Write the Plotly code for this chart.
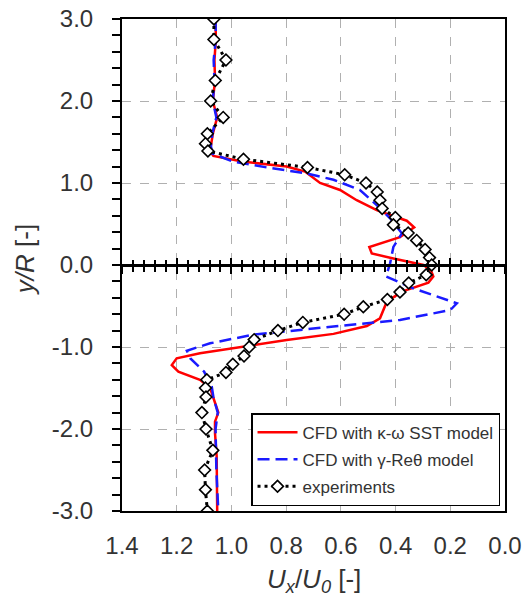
import plotly.graph_objects as go

# ---------------- data ----------------
exp_y = [3.0, 2.75, 2.5, 2.25, 2.0, 1.8, 1.6, 1.48, 1.39, 1.29, 1.19, 1.10, 1.0, 0.89, 0.79, 0.69,
         0.58, 0.49, 0.39, 0.30, 0.19, 0.09, 0.0, -0.12, -0.22, -0.33, -0.42, -0.51, -0.60, -0.70,
         -0.80, -0.91, -1.0, -1.11, -1.21, -1.31, -1.40, -1.50, -1.61, -1.80, -2.0, -2.26, -2.50,
         -2.74, -3.0]
exp_x = [1.064, 1.064, 1.020, 1.059, 1.076, 1.030, 1.088, 1.095, 1.086, 0.956, 0.722, 0.586, 0.508,
         0.467, 0.457, 0.449, 0.401, 0.408, 0.354, 0.323, 0.292, 0.276, 0.268, 0.288, 0.352, 0.384,
         0.430, 0.518, 0.588, 0.739, 0.830, 0.917, 0.935, 0.954, 0.995, 1.020, 1.090, 1.095, 1.093,
         1.108, 1.093, 1.068, 1.098, 1.095, 1.088]

sst_y = [3.0, 2.75, 2.5, 2.25, 2.0, 1.8, 1.6, 1.45, 1.39, 1.33, 1.26, 1.20, 1.14, 1.0, 0.915, 0.79,
         0.67, 0.61, 0.54, 0.46, 0.34, 0.22, 0.14, 0.08, 0.0, -0.07, -0.14, -0.215, -0.325, -0.447,
         -0.65, -0.744, -0.84, -0.915, -1.0, -1.077, -1.138, -1.22, -1.30, -1.40, -1.50, -1.61,
         -1.8, -1.91, -2.05, -2.33, -3.0]
sst_x = [1.058, 1.057, 1.062, 1.060, 1.068, 1.052, 1.068, 1.075, 1.078, 1.066, 0.956, 0.798, 0.731,
         0.676, 0.603, 0.542, 0.469, 0.420, 0.359, 0.332, 0.384, 0.496, 0.487, 0.408, 0.298, 0.270,
         0.262, 0.280, 0.377, 0.432, 0.457, 0.505, 0.627, 0.798, 0.956, 1.115, 1.200, 1.218, 1.194,
         1.115, 1.078, 1.066, 1.048, 1.060, 1.060, 1.054, 1.052]

gre_y = [3.0, 2.75, 2.5, 2.25, 2.0, 1.8, 1.6, 1.45, 1.36, 1.26, 1.19, 1.12, 1.04, 0.915, 0.73, 0.57,
         0.386, 0.22, 0.02, -0.14, -0.285, -0.467, -0.55, -0.67, -0.75, -0.85, -0.955, -1.045,
         -1.14, -1.30, -1.48, -1.61, -1.8, -2.0, -2.5, -3.0]
gre_x = [1.058, 1.057, 1.065, 1.062, 1.068, 1.055, 1.070, 1.075, 1.070, 0.993, 0.871, 0.731, 0.627,
         0.530, 0.469, 0.420, 0.377, 0.408, 0.420, 0.435, 0.335, 0.176, 0.200, 0.384, 0.627, 0.920,
         1.078, 1.163, 1.150, 1.100, 1.072, 1.066, 1.050, 1.058, 1.055, 1.048]

x_tickvals = [1.4, 1.2, 1.0, 0.8, 0.6, 0.4, 0.2, 0.0]
x_ticktext = ["1.4", "1.2", "1.0", "0.8", "0.6", "0.4", "0.2", "0.0"]
y_tickvals = [3, 2, 1, 0, -1, -2, -3]
y_ticktext = ["3.0", "2.0", "1.0", "0.0", "-1.0", "-2.0", "-3.0"]

names = ["CFD with κ-ω SST model", "CFD with γ-Reθ model", "experiments"]

FONT = "Arial, Liberation Sans, Helvetica, sans-serif"
TXT = "#333333"

fig = go.Figure()

# invisible helper traces so the centre (y = 0) axes get drawn
for ax in ["x2", "x3"]:
    fig.add_trace(go.Scatter(x=exp_x, y=exp_y, xaxis=ax, yaxis="y", mode="markers",
                             marker=dict(opacity=0), showlegend=False, hoverinfo="skip"))

fig.add_trace(go.Scatter(x=sst_x, y=sst_y, mode="lines", name=names[0], legendgroup="a",
                         line=dict(color="#ff0000", width=2.5)))
fig.add_trace(go.Scatter(x=gre_x, y=gre_y, mode="lines", name=names[1], legendgroup="b",
                         line=dict(color="#1a1aff", width=2.5, dash="12px,6px")))
fig.add_trace(go.Scatter(x=exp_x, y=exp_y, mode="lines+markers", name=names[2], legendgroup="c",
                         line=dict(color="black", width=3, dash="3px,4px"),
                         marker=dict(symbol="diamond", size=9, color="white",
                                     line=dict(color="black", width=1.6))))

grid = dict(showgrid=True, gridcolor="#b0b0b0", griddash="dash", gridwidth=1)

fig.update_layout(
    template="none",
    width=523, height=603,
    margin=dict(l=122, r=18, t=19, b=92, pad=0),
    paper_bgcolor="white", plot_bgcolor="white",
    font=dict(family=FONT, color=TXT),
    xaxis=dict(range=[1.4, 0.0], tickmode="array", tickvals=x_tickvals, ticktext=x_ticktext,
               tickfont=dict(size=24, color=TXT), ticks="", ticklabelstandoff=12, automargin=False,
               ticklabeloverflow="allow",
               showline=True, linecolor="black", linewidth=2, mirror=True, zeroline=False,
               **grid),
    xaxis2=dict(range=[1.4, 0.0], overlaying="x", anchor="free", position=0.5, automargin=False,
                showline=True, linecolor="black", linewidth=2.5, showgrid=False, zeroline=False,
                showticklabels=False, tickmode="linear", tick0=0, dtick=0.2,
                ticks="outside", ticklen=7, tickwidth=2, tickcolor="black",
                minor=dict(ticks="outside", ticklen=5, tickwidth=1.5, tickcolor="black",
                           tickmode="linear", tick0=0, dtick=0.04, showgrid=False)),
    xaxis3=dict(range=[1.4, 0.0], overlaying="x", anchor="free", position=0.5, automargin=False,
                showline=False, showgrid=False, zeroline=False,
                showticklabels=False, tickmode="linear", tick0=0, dtick=0.2,
                ticks="inside", ticklen=7, tickwidth=2, tickcolor="black",
                minor=dict(ticks="inside", ticklen=5, tickwidth=1.5, tickcolor="black",
                           tickmode="linear", tick0=0, dtick=0.04, showgrid=False)),
    yaxis=dict(range=[-3, 3], tickmode="array", tickvals=y_tickvals, ticktext=y_ticktext,
               tickfont=dict(size=24, color=TXT), ticks="outside", ticklen=8, tickwidth=2,
               tickcolor="black", ticklabelstandoff=14, automargin=False,
               ticklabeloverflow="allow",
               minor=dict(ticks="outside", ticklen=8, tickwidth=2, tickcolor="black",
                          tickmode="linear", tick0=0, dtick=0.2, showgrid=False),
               showline=True, linecolor="black", linewidth=2, mirror=True, zeroline=False,
               **grid),
    legend=dict(x=0.987, y=0.01, xanchor="right", yanchor="bottom",
                bgcolor="white", bordercolor="black", borderwidth=1.5,
                font=dict(size=17, color=TXT, family=FONT), tracegroupgap=2,
                itemwidth=40),
    showlegend=True,
    annotations=[
        dict(text="<i>U</i><sub><i>x</i></sub>/<i>U</i><sub><i>0</i></sub> [-]",
             xref="paper", yref="paper", x=0.5, y=-0.104, xanchor="center", yanchor="top",
             showarrow=False, font=dict(size=26, color=TXT, family=FONT)),
        dict(text="<i>y/R</i> [-]", textangle=-90,
             xref="paper", yref="paper", x=-0.253, y=0.51, xanchor="center", yanchor="middle",
             showarrow=False, font=dict(size=26, color=TXT, family=FONT)),
    ],
)

# remove the default 8 px page margin so the 523x603 figure fills the window exactly
fig.write_html("out.html",
               config={"displayModeBar": False},
               post_script="document.body.style.margin='0';document.body.style.overflow='hidden';")
